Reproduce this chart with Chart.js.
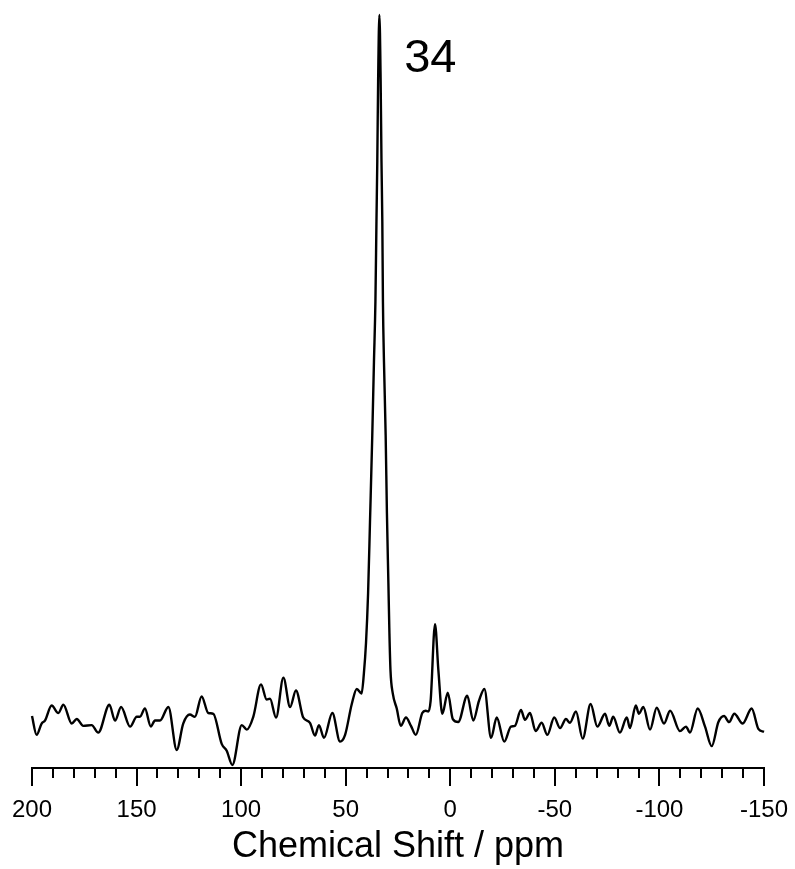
<!DOCTYPE html>
<html>
<head>
<meta charset="utf-8">
<script src="https://cdn.jsdelivr.net/npm/chart.js@4"></script>
<style>
    html, body { margin: 0; padding: 0; background: #fff; }
    #wrap { width: 795px; height: 869px; position: relative; }
</style>
</head>
<body>
<div id="wrap"><canvas id="spectrum"></canvas></div>
<script>
// chemical shift (ppm), left to right
const shiftPpm = [
    200, 197.8, 195.4, 193.8, 190.6, 187.4, 185.0, 181.0, 178.6, 175.5,
    171.5, 168.3, 163.0, 160.3, 157.4, 153.1, 149.9, 148.4, 146.0, 143.2,
    141.2, 138.8, 134.8, 130.8, 127.7, 124.5, 122.1, 118.9, 115.7, 113.3,
    109.3, 106.9, 104.2, 99.7, 97.3, 94.2, 90.5, 87.8, 86.2, 83.3,
    79.8, 76.6, 73.8, 70.3, 67.1, 64.7, 62.8, 60.4, 56.4, 52.7,
    50.3, 47.1, 44.7, 42.4, 41.3, 40.3, 39.3, 38.4, 37.3, 36.5,
    35.8, 35.3, 34.9, 34.5, 33.9, 33.3, 32.9, 32.5, 32.2, 31.7,
    30.9, 30.3, 29.6, 29.1, 28.6, 27.5, 25.6, 23.7, 21.2, 18.8,
    16.5, 13.4, 11.8, 10.5, 9.4, 7.3, 5.7, 3.8, 1.2, -1.2,
    -3.8, -8.1, -11.0, -13.7, -16.3, -19.5, -22.2, -25.8, -29.0, -30.9,
    -33.8, -35.7, -38.1, -40.8, -43.7, -46.4, -49.7, -52.5, -55.3, -57.2,
    -60.1, -63.3, -67.1, -70.3, -74.0, -76.0, -77.9, -81.1, -84.4, -85.9,
    -88.7, -90.2, -92.3, -95.5, -98.7, -102.2, -105.1, -109.8, -112.7, -114.6,
    -118.3, -121.8, -125.0, -128.2, -130.9, -133.3, -135.8, -139.8, -144.1, -147.3,
    -150
];

// intensity, arbitrary units (main peak = 100)
const intensity = [
    6.9, 4.4, 5.9, 6.3, 8.3, 7.3, 8.4, 5.9, 6.5, 5.6,
    5.7, 4.7, 8.4, 6.3, 8.1, 5.5, 6.8, 6.8, 7.9, 5.5,
    6.3, 6.3, 8.1, 2.4, 5.9, 7.1, 6.8, 9.5, 7.3, 7.2,
    3.2, 2.3, 0.4, 5.7, 5.1, 6.8, 11.1, 9.1, 9.2, 6.7,
    12.0, 8.1, 10.3, 6.7, 6.0, 4.3, 5.7, 4.0, 7.3, 3.5,
    4.4, 8.5, 10.5, 9.9, 12.6, 16.6, 23.2, 32.6, 44.2, 53.9,
    61.9, 72.6, 80.6, 91.3, 100, 91.3, 80.6, 72.6, 61.9, 53.9,
    44.2, 33.9, 24.6, 17.9, 13.0, 9.9, 7.9, 5.6, 6.7, 5.6,
    4.4, 7.3, 7.6, 7.5, 8.9, 19.1, 13.0, 7.2, 10.0, 6.5,
    6.1, 9.6, 6.3, 8.9, 10.5, 4.0, 6.7, 3.5, 5.5, 5.6,
    7.7, 6.4, 7.3, 4.9, 6.0, 4.4, 6.7, 5.3, 6.5, 6.0,
    7.5, 3.9, 8.5, 5.5, 7.2, 5.6, 6.8, 4.7, 6.7, 5.3,
    8.3, 7.2, 8.1, 5.1, 8.0, 5.9, 7.6, 4.9, 5.5, 4.7,
    7.9, 5.5, 2.9, 6.1, 6.9, 6.1, 7.2, 5.9, 7.9, 5.2,
    4.8
];

const tickLabels = [200, 150, 100, 50, 0, -50, -100, -150];
const peakLabel = '34';
const peakShift = 34;

const FONT = "'Liberation Sans', Arial, sans-serif";

// minor/major tick marks under the axis line, plus the peak label
const tickMarks = {
    id: 'tickMarks',
    afterDraw(chart) {
        const ctx = chart.ctx;
        const x = chart.scales.x;
        const y0 = chart.chartArea.bottom;
        ctx.save();
        ctx.strokeStyle = '#000';
        ctx.lineWidth = 2;
        for (let v = -150; v <= 200; v += 10) {
            const px = Math.round(x.getPixelForValue(v));
            const len = v % 50 === 0 ? 18 : 10;
            ctx.beginPath();
            ctx.moveTo(px, y0);
            ctx.lineTo(px, y0 + len);
            ctx.stroke();
        }
        ctx.fillStyle = '#000';
        ctx.font = '47px ' + FONT;
        ctx.textBaseline = 'alphabetic';
        ctx.fillText(peakLabel, x.getPixelForValue(peakShift) + 25, 72);
        ctx.restore();
    }
};

const points = shiftPpm.map((s, i) => ({ x: s, y: intensity[i] }));

new Chart(document.getElementById('spectrum'), {
    type: 'scatter',
    data: {
        datasets: [{
            data: points,
            showLine: true,
            borderColor: '#000',
            borderWidth: 2.4,
            pointRadius: 0,
            cubicInterpolationMode: 'monotone',
            clip: false
        }]
    },
    options: {
        responsive: true,
        maintainAspectRatio: false,
        animation: false,
        layout: { padding: { left: 32, right: 31, top: 15, bottom: 0 } },
        plugins: { legend: { display: false }, tooltip: { enabled: false } },
        scales: {
            x: {
                type: 'linear',
                reverse: true,
                min: -150,
                max: 200,
                afterBuildTicks: axis => {
                    axis.ticks = tickLabels.map(v => ({ value: v }));
                },
                afterFit: axis => {
                    axis.paddingLeft = 0;
                    axis.paddingRight = 0;
                },
                grid: { display: false, drawTicks: false },
                border: { display: true, color: '#000', width: 2 },
                ticks: {
                    color: '#000',
                    font: { family: FONT, size: 24 },
                    padding: 28,
                    maxRotation: 0,
                    autoSkip: false
                },
                title: {
                    display: true,
                    text: 'Chemical Shift / ppm',
                    color: '#000',
                    font: { family: FONT, size: 36 },
                    padding: { top: -27, bottom: 0 }
                }
            },
            y: {
                display: false,
                min: 0,
                max: 100
            }
        }
    },
    plugins: [tickMarks]
});
</script>
</body>
</html>
